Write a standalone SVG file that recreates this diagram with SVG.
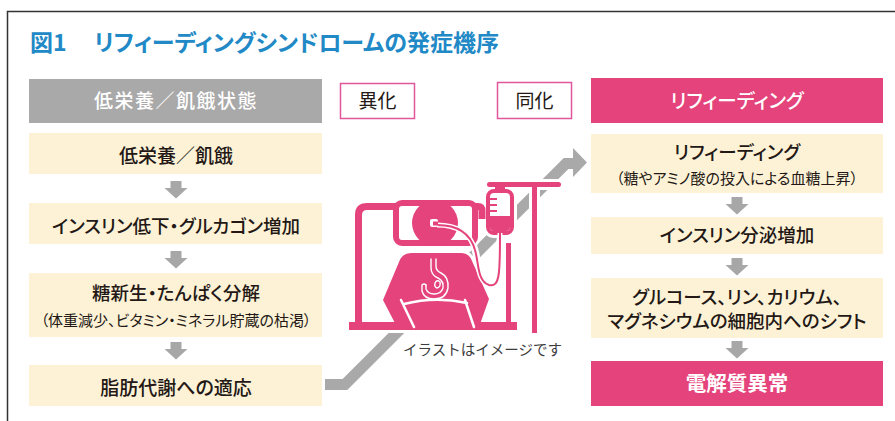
<svg xmlns="http://www.w3.org/2000/svg" width="895" height="421" viewBox="0 0 895 421">
  <defs>
    <style>
      .t { font-family: "Noto Sans CJK JP", "Noto Sans", sans-serif; font-feature-settings: "palt" 1; text-anchor: middle; fill: #231815; font-weight: 500; }
      .title { font-family: "Noto Sans CJK JP", "Noto Sans", sans-serif; font-feature-settings: "palt" 1; fill: #2189c6; font-weight: 700; font-size: 23px; }
      .box { fill: #fdf2d6; }
      .pkbox { fill: #e5437b; }
      .graybox { fill: #a9a9a9; }
      .tag { fill: #ffffff; stroke: #e0569a; stroke-width: 1.5; }
      .arr { fill: #a7a7a7; }
      .pk { fill: #e5437b; }
      .sub { font-size: 15px; font-weight: 400; }
    </style>
    <!-- small downward block arrow, origin at top centre -->
    <path id="down" d="M -5.5 0 H 5.5 V 7 H 11.5 L 0 17.5 L -11.5 7 H -5.5 Z"/>
  </defs>

  <!-- outer frame (open to the right and bottom) -->
  <path d="M 7.5 421 V 11.5 H 895" fill="none" stroke="#333" stroke-width="1.5"/>

  <!-- title -->
  <text class="title" x="30" y="51">図1<tspan x="94">リフィーディングシンドロームの発症機序</tspan></text>

  <!-- column headers -->
  <g id="hdr-left">
    <rect class="graybox" x="29" y="79" width="293" height="44"/>
    <text class="t" x="176" y="108" style="fill:#fff;font-size:19px;letter-spacing:1.5px">低栄養／飢餓状態</text>
  </g>
  <g id="tag-catabolism">
    <rect class="tag" x="340.5" y="83.5" width="74" height="35"/>
    <text class="t" x="377.5" y="108" style="font-size:19px;font-weight:400">異化</text>
  </g>
  <g id="tag-anabolism">
    <rect class="tag" x="497.5" y="82.5" width="74" height="36"/>
    <text class="t" x="534.5" y="108" style="font-size:19px;font-weight:400">同化</text>
  </g>
  <g id="hdr-right">
    <rect class="pkbox" x="591" y="78" width="292" height="45"/>
    <text class="t" x="737" y="107.5" style="fill:#fff;font-size:19.5px">リフィーディング</text>
  </g>

  <!-- left column -->
  <g id="l1">
    <rect class="box" x="29" y="133" width="293" height="41"/>
    <text class="t" x="176" y="163" style="font-size:19px">低栄養／飢餓</text>
  </g>
  <g id="l2">
    <rect class="box" x="29" y="203" width="293" height="41"/>
    <text class="t" x="176" y="232.5" style="font-size:18.5px">インスリン低下・グルカゴン増加</text>
  </g>
  <g id="l3">
    <rect class="box" x="29" y="273" width="293" height="64"/>
    <text class="t" x="176" y="300" style="font-size:18.5px">糖新生・たんぱく分解</text>
    <text class="t sub" x="176" y="325.5">（体重減少、ビタミン・ミネラル貯蔵の枯渇）</text>
  </g>
  <g id="l4">
    <rect class="box" x="29" y="365" width="293" height="41"/>
    <text class="t" x="176" y="394.5" style="font-size:19px">脂肪代謝への適応</text>
  </g>

  <!-- right column -->
  <g id="r1">
    <rect class="box" x="591" y="134" width="292" height="59"/>
    <text class="t" x="737" y="159" style="font-size:18.5px">リフィーディング</text>
    <text class="t sub" x="737" y="184">（糖やアミノ酸の投入による血糖上昇）</text>
  </g>
  <g id="r2">
    <rect class="box" x="591" y="217" width="292" height="37"/>
    <text class="t" x="737" y="242" style="font-size:18.5px">インスリン分泌増加</text>
  </g>
  <g id="r3">
    <rect class="box" x="591" y="278" width="292" height="60"/>
    <text class="t" x="737" y="303.5" style="font-size:18.5px">グルコース、リン、カリウム、</text>
    <text class="t" x="737" y="327.5" style="font-size:18.5px">マグネシウムの細胞内へのシフト</text>
  </g>
  <g id="r4">
    <rect class="pkbox" x="591" y="361" width="292" height="45"/>
    <text class="t" x="737" y="391" style="fill:#fff;font-size:20.5px;font-weight:700">電解質異常</text>
  </g>

  <!-- connectors -->
  <g id="connectors">
    <use href="#down" class="arr" x="176" y="181"/>
    <use href="#down" class="arr" x="176" y="251"/>
    <use href="#down" class="arr" x="176" y="342"/>
    <use href="#down" class="arr" x="737" y="197"/>
    <use href="#down" class="arr" x="737" y="258"/>
    <use href="#down" class="arr" x="737" y="341"/>
    <!-- rising arrow from catabolism to anabolism -->
    <path d="M 325 384.5 H 345 L 566 163.5 H 576" fill="none" stroke="#a9a9a9" stroke-width="11" stroke-linejoin="miter"/>
    <polygon points="573,148 587,162.5 573,177" fill="#a9a9a9"/>
  </g>

  <!-- patient in bed with drip -->
  <g id="illustration">
    <!-- white halo so the figure sits cleanly over the arrow -->
    <g fill="#fff" stroke="#fff" stroke-linejoin="round" stroke-linecap="round">
      <path d="M 358.5 323 V 215 Q 358.5 206.5 367 206.5 H 478 Q 482 206.5 482 211 V 219" fill="none" stroke-width="12"/>
      <rect x="396" y="203" width="79" height="40" rx="6" stroke-width="11"/>
      <circle cx="435" cy="223" r="23" stroke-width="5"/>
      <path d="M 399 262 Q 402 253 412 253 H 461 Q 469 253 472 261 L 489 299 L 479 327 H 397 L 383 300 Z" stroke-width="6"/>
      <rect x="349" y="322" width="168" height="8" stroke-width="6"/>
      <rect x="506" y="243" width="5" height="85" stroke-width="6"/>
      <rect x="487" y="182" width="74" height="5" stroke-width="6"/>
      <rect x="532" y="182" width="5" height="151" stroke-width="6"/>
      <rect x="488" y="190" width="24" height="43" rx="6" stroke-width="10"/>
      <path d="M 437 225 C 456 225 470 232 475 250 C 479 263 477 281 489 285 C 500 288 500 272 500 240" fill="none" stroke-width="7"/>
    </g>

    <!-- bed head frame and pillow -->
    <path d="M 358.5 323 V 215 Q 358.5 206.5 367 206.5 H 478 Q 482 206.5 482 211 V 219" fill="none" stroke="#e5437b" stroke-width="7"/>
    <rect x="396" y="203" width="79" height="40" rx="6" fill="#fff" stroke="#e5437b" stroke-width="6"/>
    <!-- head -->
    <circle class="pk" cx="435" cy="223" r="23"/>
    <!-- body -->
    <path class="pk" d="M 399 262 Q 402 253 412 253 H 461 Q 469 253 472 261 L 489 299 L 479 327 H 397 L 383 300 Z"/>
    <!-- bed base and foot -->
    <rect class="pk" x="349" y="322" width="168" height="8"/>
    <rect class="pk" x="506" y="243" width="5" height="85"/>
    <!-- arm and blanket contours -->
    <g fill="none" stroke="#fff" stroke-width="2.5" stroke-linecap="round">
      <path d="M 401 300 L 414 327"/>
      <path d="M 465 300 L 474 327"/>
      <path d="M 404 304 Q 435 296 467 303"/>
    </g>
    <!-- stomach -->
    <g fill="none" stroke="#fff" stroke-width="1.4" stroke-linecap="round" stroke-linejoin="round">
      <path d="M 431 259 V 268 Q 431 275 438 278 Q 444 281 443 288 Q 441 294 434 294 Q 428 294 426 289 L 426 285"/>
      <path d="M 436 259 V 266 Q 436 271 441 273 Q 449 277 448 288 Q 446 299 434 299 Q 424 299 422 291 L 422 285 Q 424 283 426 285"/>
      <path d="M 435 283 Q 437 279 440 282 Q 441 287 437 288 Q 434 287 435 283 Z"/>
    </g>
    <!-- drip stand -->
    <rect class="pk" x="487" y="182" width="74" height="5" rx="2.5"/>
    <rect class="pk" x="532" y="182" width="5" height="151"/>
    <!-- drip bag -->
    <rect class="pk" x="495" y="185" width="10" height="7"/>
    <rect x="488" y="191" width="24" height="42" rx="6" fill="#fff" stroke="#e5437b" stroke-width="4"/>
    <path class="pk" d="M 490 216 H 510 V 227 Q 510 231 506 231 H 494 Q 490 231 490 227 Z"/>
    <g stroke="#e5437b" stroke-width="2">
      <path d="M 490 199 H 497"/>
      <path d="M 490 205 H 497"/>
      <path d="M 490 211 H 497"/>
    </g>
    <!-- feeding tube -->
    <path d="M 437 225 C 456 225 470 232 475 250 C 479 263 477 281 489 285 C 500 288 500 272 500 233" fill="none" stroke="#fff" stroke-width="5"/>
    <path d="M 437 225 C 456 225 470 232 475 250 C 479 263 477 281 489 285 C 500 288 500 272 500 233" fill="none" stroke="#e5437b" stroke-width="2"/>
    <rect x="430" y="219" width="8" height="8" rx="2" fill="#fff"/>
    <rect class="pk" x="433" y="221.5" width="5" height="4"/>
  </g>

  <text id="caption" x="403" y="355" style="font-family:'Noto Sans CJK JP','Noto Sans',sans-serif;font-size:14.5px;fill:#3c3c3c">イラストはイメージです</text>
</svg>
